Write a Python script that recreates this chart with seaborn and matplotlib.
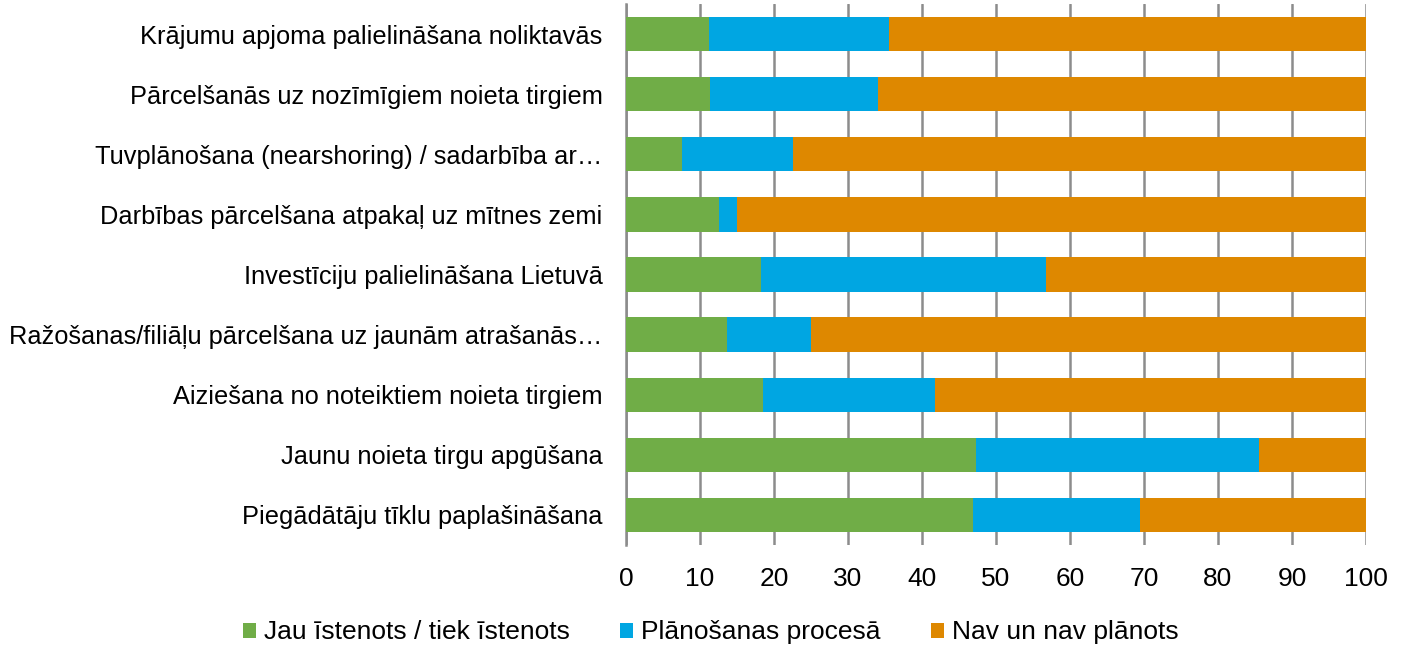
import matplotlib
matplotlib.use("Agg")
import matplotlib.pyplot as plt
from matplotlib.patches import Patch
import seaborn as sns
import pandas as pd

categories = [
    "Krājumu apjoma palielināšana noliktavās",
    "Pārcelšanās uz nozīmīgiem noieta tirgiem",
    "Tuvplānošana (nearshoring) / sadarbība ar…",
    "Darbības pārcelšana atpakaļ uz mītnes zemi",
    "Investīciju palielināšana Lietuvā",
    "Ražošanas/filiāļu pārcelšana uz jaunām atrašanās…",
    "Aiziešana no noteiktiem noieta tirgiem",
    "Jaunu noieta tirgu apgūšana",
    "Piegādātāju tīklu paplašināšana",
]
done = [11.2, 11.35, 7.5, 12.5, 18.2, 13.65, 18.55, 47.25, 46.9]
planning = [24.3, 22.75, 15.0, 2.5, 38.6, 11.35, 23.25, 38.25, 22.5]
not_planned = [64.5, 65.9, 77.5, 85.0, 43.2, 75.0, 58.2, 14.5, 30.6]

series_names = ["Jau īstenots / tiek īstenots", "Plānošanas procesā", "Nav un nav plānots"]
colors = ["#70AD47", "#00A6E2", "#DE8800"]

df = pd.DataFrame({"cat": categories, "done": done, "planning": planning, "not_planned": not_planned})
df["c1"] = df["done"]
df["c2"] = df["done"] + df["planning"]
df["c3"] = df["c2"] + df["not_planned"]

sns.set_style("white")
plt.rcParams["font.family"] = ["Liberation Sans", "DejaVu Sans"]
plt.rcParams["text.color"] = "black"
plt.rcParams["xtick.color"] = "black"
plt.rcParams["ytick.color"] = "black"

fig = plt.figure(figsize=(14.07, 6.45), dpi=100)
ax = fig.add_axes([626 / 1407, 1 - 545 / 645, 740 / 1407, 541 / 645])

# stacked bars: draw cumulative totals back to front
for col, c in zip(["c3", "c2", "c1"], colors[::-1]):
    sns.barplot(data=df, x=col, y="cat", orient="h", color=c, width=0.57,
                saturation=1, ax=ax, edgecolor="none", zorder=3)

ax.set_xlim(0, 100)
ax.set_xticks(range(0, 101, 10))
ax.set_xlabel("")
ax.set_ylabel("")
ax.grid(axis="x", color="#8c8c8c", linewidth=1.8, zorder=0)
ax.grid(axis="y", visible=False)
for s in ["top", "right", "bottom"]:
    ax.spines[s].set_visible(False)
ax.spines["left"].set_color("#8c8c8c")
ax.spines["left"].set_linewidth(1.8)
ax.tick_params(axis="x", length=0, pad=16, labelsize=19, labelcolor="black")
ax.tick_params(axis="y", length=0, pad=17, labelsize=18.3, labelcolor="black")

handles = [Patch(facecolor=c, edgecolor="none") for c in colors]
fig.legend(handles, series_names, loc="lower center", bbox_to_anchor=(0.505, -0.036),
           ncol=3, frameon=False, fontsize=19, handlelength=0.5, handleheight=0.5,
           handletextpad=0.3, columnspacing=1.9)

fig.savefig("out.png", dpi=100)
